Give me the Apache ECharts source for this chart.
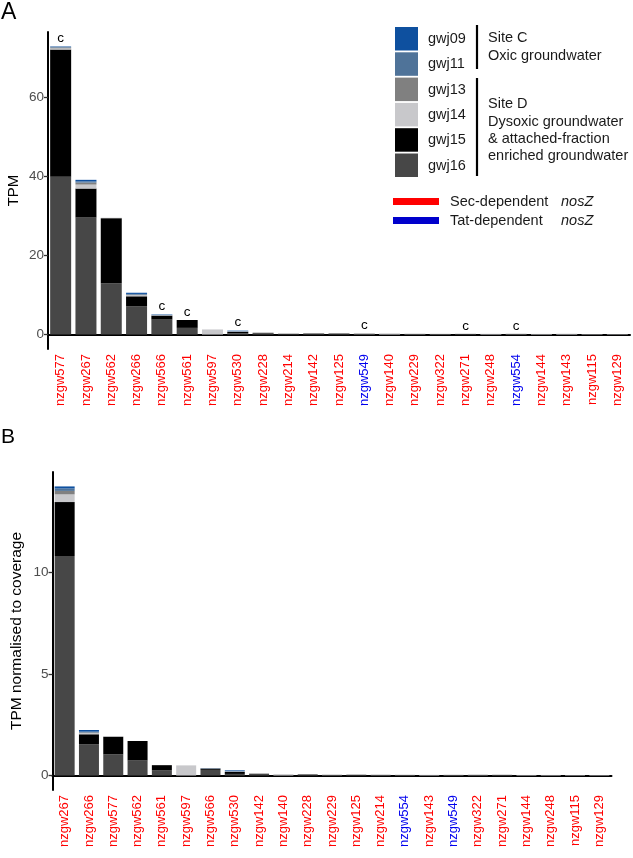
<!DOCTYPE html>
<html><head><meta charset="utf-8">
<script src="https://cdn.jsdelivr.net/npm/echarts@6/dist/echarts.min.js"></script>
<style>html,body{margin:0;padding:0;background:#fff}#c{width:633px;height:858px}</style>
</head><body><div id="c"></div>
<script>
// ---------- Panel A: TPM ----------
const catsA = ['nzgw577','nzgw267','nzgw562','nzgw266','nzgw566','nzgw561','nzgw597','nzgw530','nzgw228','nzgw214','nzgw142','nzgw125','nzgw549','nzgw140','nzgw229','nzgw322','nzgw271','nzgw248','nzgw554','nzgw144','nzgw143','nzgw115','nzgw129'];
const A_gwj16 = [40.0,29.7,13.0,7.2,3.8,1.7,0,0.3,0.35,0.2,0.3,0.3,0.02,0,0,0,0.1,0,0,0,0,0,0];
const A_gwj15 = [32.2,7.3,16.5,2.5,1.0,2.0,0,0.4,0.1,0,0,0,0,0,0,0,0,0,0,0,0,0,0];
const A_gwj14 = [0.3,1.0,0.1,0.3,0.1,0,1.3,0.1,0,0,0,0,0,0.2,0,0,0,0.2,0,0.18,0.15,0.12,0.12];
const A_gwj13 = [0.2,0.5,0,0.1,0,0,0,0,0,0.05,0,0,0.25,0.05,0.2,0.18,0.1,0,0.2,0,0.03,0,0];
const A_gwj11 = [0.2,0.3,0,0.2,0.1,0,0,0.1,0,0,0,0,0,0,0,0,0,0,0,0,0,0,0];
const A_gwj09 = [0.1,0.4,0,0.3,0.1,0,0,0.1,0,0,0,0,0,0,0,0,0,0,0,0,0,0,0];
const A_cmark = ['c','','','','c','c','','c','','','','','c','','','','c','','c','','','',''];
const A_ticks = [0,20,40,60];

// ---------- Panel B: TPM normalised to coverage ----------
const catsB = ['nzgw267','nzgw266','nzgw577','nzgw562','nzgw561','nzgw597','nzgw566','nzgw530','nzgw142','nzgw140','nzgw228','nzgw229','nzgw125','nzgw214','nzgw554','nzgw143','nzgw549','nzgw322','nzgw271','nzgw144','nzgw248','nzgw115','nzgw129'];
const B_gwj16 = [10.8,1.53,1.04,0.74,0.25,0,0.28,0.08,0.09,0,0.06,0,0.02,0,0,0,0,0,0.01,0,0,0,0];
const B_gwj15 = [2.65,0.5,0.87,0.96,0.26,0,0.06,0.1,0,0,0,0,0,0,0,0,0,0,0,0,0,0,0];
const B_gwj14 = [0.38,0.06,0.02,0,0,0.5,0,0.02,0,0.05,0,0,0,0.01,0,0.035,0,0.01,0,0.03,0.03,0.025,0.025];
const B_gwj13 = [0.17,0.03,0,0,0,0,0.01,0,0.01,0.01,0,0.04,0.03,0.03,0.035,0,0.035,0.03,0.03,0,0,0,0];
const B_gwj11 = [0.12,0.04,0,0,0,0,0,0.03,0,0,0,0,0,0,0,0,0,0,0,0,0,0,0];
const B_gwj09 = [0.1,0.08,0,0,0,0,0.01,0.03,0,0,0,0,0,0,0,0,0,0,0,0,0,0,0];
const B_ticks = [0,5,10];

// Tat-dependent (blue labelled) genes
const tatGenes = ['nzgw549','nzgw554'];

const sampleNames = ['gwj09','gwj11','gwj13','gwj14','gwj15','gwj16'];
const sampleColors = {gwj09:'#0e509f', gwj11:'#4f7399', gwj13:'#808080', gwj14:'#c8c8cb', gwj15:'#000000', gwj16:'#474747'};

const FONT = "'Liberation Sans', Arial, sans-serif";
const dataA = {gwj16:A_gwj16, gwj15:A_gwj15, gwj14:A_gwj14, gwj13:A_gwj13, gwj11:A_gwj11, gwj09:A_gwj09};
const dataB = {gwj16:B_gwj16, gwj15:B_gwj15, gwj14:B_gwj14, gwj13:B_gwj13, gwj11:B_gwj11, gwj09:B_gwj09};
const stackOrder = ['gwj16','gwj15','gwj14','gwj13','gwj11','gwj09'];

function makeSeries(data, idx, bw) {
  return stackOrder.map(k => ({
    type:'bar', name:k, stack:'s'+idx, xAxisIndex:idx, yAxisIndex:idx,
    data:data[k], barWidth:bw, itemStyle:{color:sampleColors[k]},
    emphasis:{disabled:true}, animation:false
  }));
}

const series = [].concat(makeSeries(dataA,0,21), makeSeries(dataB,1,20));
series.push({
  type:'bar', name:'annot', stack:'s0', xAxisIndex:0, yAxisIndex:0,
  data:A_cmark.map(()=>0), barWidth:21, itemStyle:{color:'rgba(0,0,0,0)'},
  label:{show:true, position:'top', distance:1, fontFamily:FONT, fontSize:13.5, color:'#000',
    formatter:p=>A_cmark[p.dataIndex]},
  animation:false
});

function xAxisCfg(cats, gi) {
  return {type:'category', gridIndex:gi, data:cats, boundaryGap:true,
    axisLine:{lineStyle:{color:'#000', width:2}},
    axisTick:{alignWithLabel:true, length:4, lineStyle:{color:'#333', width:1.3}},
    axisLabel:{rotate:90, interval:0, margin:5, fontFamily:FONT, fontSize:13,
      color:(v)=> tatGenes.indexOf(v)>=0 ? '#0000ee' : '#ff0000'}};
}
function yAxisCfg(gi, mn, mx, ticks) {
  return {type:'value', gridIndex:gi, min:mn, max:mx,
    axisLine:{show:true, lineStyle:{color:'#000', width:2}},
    axisTick:{show:true, length:4, customValues:ticks, lineStyle:{color:'#333', width:1.3}},
    axisLabel:{customValues:ticks, margin:4, fontFamily:FONT, fontSize:13.5, color:'#4d4d4d'},
    splitLine:{show:false}};
}

const graphics = [];
graphics.push({type:'text', left:1, top:1, style:{text:'A', font:'23px '+FONT, fill:'#000'}});
graphics.push({type:'text', left:1, top:427, style:{text:'B', font:'21px '+FONT, fill:'#000'}});
graphics.push({type:'text', x:14, y:190.5, rotation:Math.PI/2, style:{text:'TPM', font:'15px '+FONT, fill:'#000', align:'center', verticalAlign:'middle'}});
graphics.push({type:'text', x:17, y:631, rotation:Math.PI/2, style:{text:'TPM normalised to coverage', font:'15.5px '+FONT, fill:'#000', align:'center', verticalAlign:'middle'}});

// legend
sampleNames.forEach((s,i)=>{
  const y = 27 + i*25.3;
  graphics.push({type:'rect', shape:{x:395, y:y, width:23, height:23.5}, style:{fill:sampleColors[s]}});
  graphics.push({type:'text', x:428, y:y+12, style:{text:s, font:'14.5px '+FONT, fill:'#1a1a1a', verticalAlign:'middle'}});
});
graphics.push({type:'line', shape:{x1:477, y1:25, x2:477, y2:69}, style:{stroke:'#000', lineWidth:2.2}});
graphics.push({type:'line', shape:{x1:477, y1:78, x2:477, y2:176}, style:{stroke:'#000', lineWidth:2.2}});
const siteText = [['Site C',38.3],['Oxic groundwater',56],['Site D',104.3],['Dysoxic groundwater',121.7],['& attached-fraction',138.5],['enriched groundwater',156]];
siteText.forEach(t=>graphics.push({type:'text', x:488, y:t[1], style:{text:t[0], font:'14.5px '+FONT, fill:'#1a1a1a', verticalAlign:'middle'}}));
graphics.push({type:'rect', shape:{x:393, y:198, width:46, height:7}, style:{fill:'#ff0000'}});
graphics.push({type:'rect', shape:{x:393, y:217, width:46, height:7}, style:{fill:'#0000cc'}});
graphics.push({type:'text', x:450, y:201.5, style:{text:'Sec-dependent', font:'14.5px '+FONT, fill:'#1a1a1a', verticalAlign:'middle'}});
graphics.push({type:'text', x:561, y:201.5, style:{text:'nosZ', font:'italic 14.5px '+FONT, fill:'#1a1a1a', verticalAlign:'middle'}});
graphics.push({type:'text', x:450, y:220.5, style:{text:'Tat-dependent', font:'14.5px '+FONT, fill:'#1a1a1a', verticalAlign:'middle'}});
graphics.push({type:'text', x:561, y:220.5, style:{text:'nosZ', font:'italic 14.5px '+FONT, fill:'#1a1a1a', verticalAlign:'middle'}});

const chart = echarts.init(document.getElementById('c'), null, {renderer:'canvas'});
chart.setOption({
  animation:false,
  backgroundColor:'#fff',
  grid:[
    {left:48, top:32, width:582, height:317, containLabel:false},
    {left:52.5, top:472, width:559, height:318, containLabel:false}
  ],
  xAxis:[xAxisCfg(catsA,0), xAxisCfg(catsB,1)],
  yAxis:[yAxisCfg(0,-3.65,76.65,A_ticks), yAxisCfg(1,-0.711,14.93,B_ticks)],
  series:series,
  graphic:graphics
});
</script></body></html>
